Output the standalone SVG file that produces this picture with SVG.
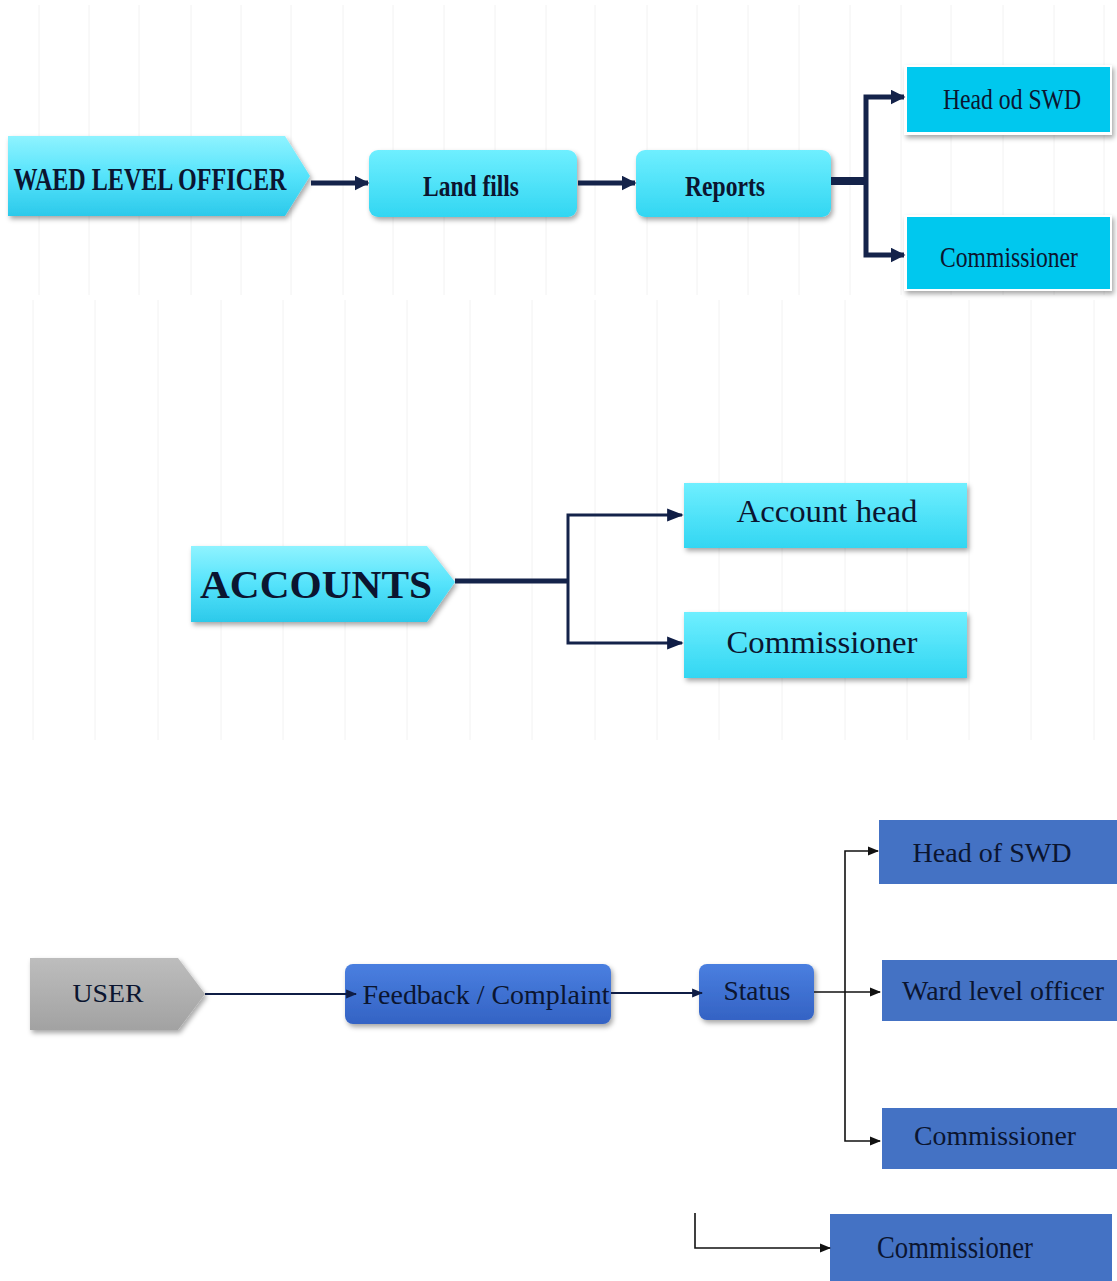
<svg xmlns="http://www.w3.org/2000/svg" width="1117" height="1281" viewBox="0 0 1117 1281">
<style>
.t{font-family:"Liberation Serif","Times New Roman",serif;fill:#0b1530;text-anchor:middle;dominant-baseline:central}
.b{font-weight:bold}
.grid line{stroke:#f2f2f2;stroke-width:1}
.c1{stroke:#14234a;fill:none}
.c3{stroke:#0f1d45;fill:none;stroke-width:2}
.c4{stroke:#111;fill:none;stroke-width:1.6}
.blue{fill:#4472c4}
</style>
<defs>
<linearGradient id="cy" x1="0" y1="0" x2="0" y2="1">
<stop offset="0" stop-color="#8ff3ff"/>
<stop offset="0.5" stop-color="#55e3fb"/>
<stop offset="1" stop-color="#2cc9ea"/>
</linearGradient>
<linearGradient id="cy2" x1="0" y1="0" x2="0" y2="1">
<stop offset="0" stop-color="#6fefff"/>
<stop offset="1" stop-color="#32d6f2"/>
</linearGradient>
<linearGradient id="bl" x1="0" y1="0" x2="0" y2="1">
<stop offset="0" stop-color="#4a7fe0"/>
<stop offset="1" stop-color="#3463c4"/>
</linearGradient>
<linearGradient id="gr" x1="0" y1="0" x2="0" y2="1">
<stop offset="0" stop-color="#bdbdbd"/>
<stop offset="1" stop-color="#a2a2a2"/>
</linearGradient>
<filter id="sh" x="-10%" y="-20%" width="125%" height="150%">
<feDropShadow dx="2" dy="3" stdDeviation="2.5" flood-color="#000" flood-opacity="0.35"/>
</filter>
<marker id="ah" viewBox="0 0 10 10" refX="9" refY="5" markerWidth="3" markerHeight="3" orient="auto" markerUnits="strokeWidth">
<path d="M0,0 L10,5 L0,10 z" fill="#14234a"/>
</marker>
<marker id="ah2" viewBox="0 0 10 10" refX="9" refY="5" markerWidth="5.5" markerHeight="5.5" orient="auto" markerUnits="strokeWidth">
<path d="M0,1 L10,5 L0,9 z" fill="#0f1d45"/>
</marker>
<marker id="ah3" viewBox="0 0 10 10" refX="9" refY="5" markerWidth="7" markerHeight="7" orient="auto" markerUnits="strokeWidth">
<path d="M0,1 L10,5 L0,9 z" fill="#111"/>
</marker>
</defs>
<rect width="1117" height="1281" fill="#fff"/>
<g class="grid">
<line x1="39" y1="5" x2="39" y2="295"/><line x1="89" y1="5" x2="89" y2="295"/><line x1="139" y1="5" x2="139" y2="295"/><line x1="191" y1="5" x2="191" y2="295"/><line x1="241" y1="5" x2="241" y2="295"/><line x1="291" y1="5" x2="291" y2="295"/><line x1="343" y1="5" x2="343" y2="295"/><line x1="393" y1="5" x2="393" y2="295"/><line x1="444" y1="5" x2="444" y2="295"/><line x1="495" y1="5" x2="495" y2="295"/><line x1="546" y1="5" x2="546" y2="295"/><line x1="595" y1="5" x2="595" y2="295"/><line x1="647" y1="5" x2="647" y2="295"/><line x1="697" y1="5" x2="697" y2="295"/><line x1="748" y1="5" x2="748" y2="295"/><line x1="799" y1="5" x2="799" y2="295"/><line x1="850" y1="5" x2="850" y2="295"/><line x1="901" y1="5" x2="901" y2="295"/><line x1="951" y1="5" x2="951" y2="295"/><line x1="1003" y1="5" x2="1003" y2="295"/><line x1="1054" y1="5" x2="1054" y2="295"/><line x1="1104" y1="5" x2="1104" y2="295"/>
<line x1="33" y1="300" x2="33" y2="740"/><line x1="95" y1="300" x2="95" y2="740"/><line x1="158" y1="300" x2="158" y2="740"/><line x1="221" y1="300" x2="221" y2="740"/><line x1="283" y1="300" x2="283" y2="740"/><line x1="345" y1="300" x2="345" y2="740"/><line x1="407" y1="300" x2="407" y2="740"/><line x1="470" y1="300" x2="470" y2="740"/><line x1="532" y1="300" x2="532" y2="740"/><line x1="595" y1="300" x2="595" y2="740"/><line x1="657" y1="300" x2="657" y2="740"/><line x1="719" y1="300" x2="719" y2="740"/><line x1="782" y1="300" x2="782" y2="740"/><line x1="845" y1="300" x2="845" y2="740"/><line x1="907" y1="300" x2="907" y2="740"/><line x1="969" y1="300" x2="969" y2="740"/><line x1="1031" y1="300" x2="1031" y2="740"/><line x1="1094" y1="300" x2="1094" y2="740"/>
</g>
<g id="waed">
<path d="M8,136 H285 L310,176 L285,216 H8 Z" fill="url(#cy)" filter="url(#sh)"/>
<text class="t b" x="150" y="179" font-size="32" textLength="273" lengthAdjust="spacingAndGlyphs">WAED LEVEL OFFICER</text>
</g>
<g id="landfills">
<rect x="369" y="150" width="208" height="67" rx="9" fill="url(#cy2)" filter="url(#sh)"/>
<text class="t b" x="471" y="185" font-size="30" textLength="96" lengthAdjust="spacingAndGlyphs">Land fills</text>
</g>
<g id="reports">
<rect x="636" y="150" width="195" height="67" rx="9" fill="url(#cy2)" filter="url(#sh)"/>
<text class="t b" x="725" y="185" font-size="30" textLength="80" lengthAdjust="spacingAndGlyphs">Reports</text>
</g>
<g id="headod">
<rect x="904" y="65" width="208" height="70" fill="#fff" filter="url(#sh)"/>
<rect x="907" y="67" width="203" height="65" fill="#00c8ee"/>
<text class="t" x="1012" y="98" font-size="30" textLength="138" lengthAdjust="spacingAndGlyphs">Head od SWD</text>
</g>
<g id="comm1">
<rect x="904" y="215" width="208" height="76" fill="#fff" filter="url(#sh)"/>
<rect x="907" y="217" width="203" height="72" fill="#00c8ee"/>
<text class="t" x="1009" y="256" font-size="30" textLength="138" lengthAdjust="spacingAndGlyphs">Commissioner</text>
</g>
<g id="accounts">
<path d="M191,546 H427 L455,582 L427,622 H191 Z" fill="url(#cy)" filter="url(#sh)"/>
<text class="t b" x="316" y="584" font-size="40" textLength="232" lengthAdjust="spacingAndGlyphs">ACCOUNTS</text>
</g>
<g id="accounthead">
<rect x="684" y="483" width="283" height="65" fill="url(#cy2)" filter="url(#sh)"/>
<text class="t" x="827" y="511" font-size="32" textLength="181" lengthAdjust="spacingAndGlyphs">Account head</text>
</g>
<g id="comm2">
<rect x="684" y="612" width="283" height="66" fill="url(#cy2)" filter="url(#sh)"/>
<text class="t" x="822" y="642" font-size="32" textLength="191" lengthAdjust="spacingAndGlyphs">Commissioner</text>
</g>
<g id="user">
<path d="M30,958 H178 L205,994 L178,1030 H30 Z" fill="url(#gr)" filter="url(#sh)"/>
<text class="t" x="108" y="993" font-size="26" textLength="71" lengthAdjust="spacingAndGlyphs">USER</text>
</g>
<g id="feedback">
<rect x="345" y="964" width="266" height="60" rx="8" fill="url(#bl)" filter="url(#sh)"/>
<text class="t" x="486" y="994" font-size="28" textLength="247" lengthAdjust="spacingAndGlyphs">Feedback / Complaint</text>
</g>
<g id="status">
<rect x="699" y="964" width="115" height="56" rx="8" fill="url(#bl)" filter="url(#sh)"/>
<text class="t" x="757" y="991" font-size="27" textLength="67" lengthAdjust="spacingAndGlyphs">Status</text>
</g>
<g id="headof">
<rect class="blue" x="879" y="820" width="238" height="64"/>
<text class="t" x="992" y="852" font-size="28" textLength="159" lengthAdjust="spacingAndGlyphs">Head of SWD</text>
</g>
<g id="ward">
<rect class="blue" x="882" y="960" width="235" height="61"/>
<text class="t" x="1003" y="990" font-size="28" textLength="202" lengthAdjust="spacingAndGlyphs">Ward level officer</text>
</g>
<g id="comm3">
<rect class="blue" x="882" y="1108" width="235" height="61"/>
<text class="t" x="995" y="1135" font-size="28" textLength="162" lengthAdjust="spacingAndGlyphs">Commissioner</text>
</g>
<g id="comm4">
<rect class="blue" x="830" y="1214" width="282" height="67"/>
<text class="t" x="955" y="1247" font-size="31" textLength="156" lengthAdjust="spacingAndGlyphs">Commissioner</text>
</g>
<g id="connectors">
<line class="c1" x1="311" y1="183" x2="368" y2="183" stroke-width="5" marker-end="url(#ah)"/>
<line class="c1" x1="578" y1="183" x2="635" y2="183" stroke-width="5" marker-end="url(#ah)"/>
<line class="c1" x1="831" y1="181" x2="867" y2="181" stroke-width="8"/>
<path class="c1" d="M866,181 V97 H904" stroke-width="5" marker-end="url(#ah)"/>
<path class="c1" d="M866,181 V255 H904" stroke-width="5" marker-end="url(#ah)"/>
<line class="c1" x1="455" y1="581" x2="569" y2="581" stroke-width="5"/>
<path class="c1" d="M568,581 V515 H682" stroke-width="3" marker-end="url(#ah2)"/>
<path class="c1" d="M568,581 V643 H682" stroke-width="3" marker-end="url(#ah2)"/>
<line class="c3" x1="205" y1="994" x2="356" y2="994" marker-end="url(#ah2)"/>
<line class="c3" x1="611" y1="993" x2="702" y2="993" marker-end="url(#ah2)"/>
<line class="c4" x1="814" y1="992" x2="880" y2="992" marker-end="url(#ah3)"/>
<path class="c4" d="M845,992 V851 H878" marker-end="url(#ah3)"/>
<path class="c4" d="M845,992 V1141 H880" marker-end="url(#ah3)"/>
<path class="c4" d="M695,1213 V1248 H830" marker-end="url(#ah3)"/>
</g>
</svg>
